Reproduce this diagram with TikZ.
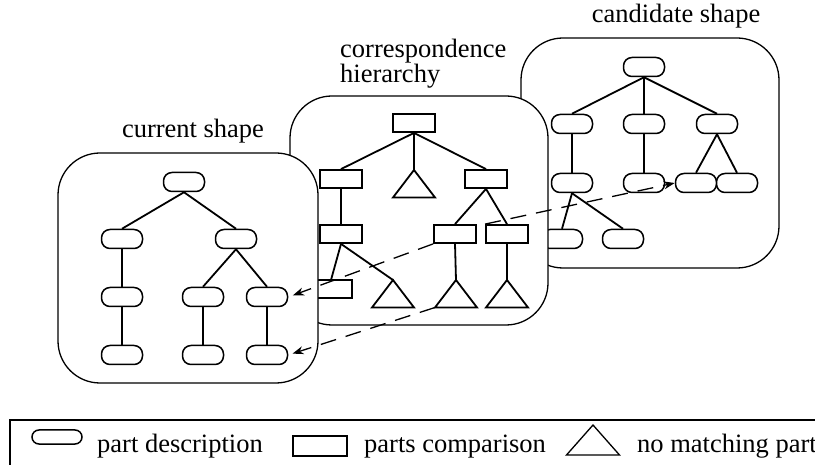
\documentclass[tikz,border=0pt]{standalone}
\usepackage{fontspec}
\setmainfont{Liberation Serif}
\usetikzlibrary{arrows.meta}
\begin{document}
\begin{tikzpicture}[x=1pt,y=-1pt,>={Stealth[length=11pt,width=8pt]},
  font=\fontsize{26.5pt}{22pt}\selectfont,
  panel/.style={draw,line width=1.3pt,fill=white,rounded corners=42pt},
  part/.style={draw,fill=white,line width=1.5pt,rounded corners=8.5pt,minimum width=41pt,minimum height=19pt,inner sep=0pt},
  comp/.style={draw,fill=white,line width=1.8pt,minimum width=42pt,minimum height=18pt,inner sep=0pt},
  tree/.style={line width=1.8pt},
  match/.style={->,line width=1.3pt,dash pattern=on 16pt off 10pt},]
\useasboundingbox (0,0) rectangle (815,465);
% candidate shape
\node (tcand) at (676,23)[anchor=base,inner sep=0pt] {candidate shape};
\draw[panel] (521,38) rectangle (779,268);
\node (ca0) at (644,67)[part] {};
\node (ca1a) at (572,124)[part] {};
\node (ca1b) at (644,124)[part] {};
\node (ca1c) at (717,124)[part] {};
\node (ca2a) at (572,183)[part] {};
\node (ca2b) at (644,183)[part] {};
\node (ca2c) at (696,183)[part] {};
\node (ca2d) at (737,183)[part] {};
\node (ca3a) at (562,239)[part] {};
\node (ca3b) at (623,239)[part] {};
\draw[tree] (ca0.south)--(ca1a.north);
\draw[tree] (ca0.south)--(ca1b.north);
\draw[tree] (ca0.south)--(ca1c.north);
\draw[tree] (ca1a.south)--(ca2a.north);
\draw[tree] (ca1b.south)--(ca2b.north);
\draw[tree] (ca1c.south)--(ca2c.north);
\draw[tree] (ca1c.south)--(ca2d.north);
\draw[tree] (ca2a.south)--(ca3a.north);
\draw[tree] (ca2a.south)--(ca3b.north);
% correspondence hierarchy
\node (tcorr) at (340,39)[anchor=north west,inner sep=0pt,align=left] {correspondence\\hierarchy};
\draw[panel] (290,96) rectangle (548,325);
\node (co0) at (414,123)[comp] {};
\node (co1a) at (341,179)[comp] {};
\node (co1b) at (486,179)[comp] {};
\node (co2a) at (341,234)[comp] {};
\node (co2b) at (455,234)[comp] {};
\node (co2c) at (507,234)[comp] {};
\coordinate (tr1) at (414,170);
\coordinate (tr2) at (393,280);
\coordinate (tr3) at (456,280);
\coordinate (tr4) at (507,280);
\draw[tree] (co0.south)--(co1a.north);
\draw[tree] (co0.south)--(tr1);
\draw[tree] (co0.south)--(co1b.north);
\draw[tree] (co1a.south)--(co2a.north);
\draw[tree] (co1b.south)--(co2b.north);
\draw[tree] (co1b.south)--(co2c.north);
\draw[tree] (co2a.south)--(331,280);
\draw[tree] (co2a.south)--(tr2);
\draw[tree] (co2b.south)--(tr3);
\draw[tree] (co2c.south)--(tr4);
\draw[tree] (tr1)--++(-21,27.5)--++(42,0)--cycle;
\draw[tree] (tr2)--++(-21,27.5)--++(42,0)--cycle;
\draw[tree] (tr3)--++(-21,27.5) coordinate (tr3l)--++(42,0)--cycle;
\draw[tree] (tr4)--++(-21,27.5)--++(42,0)--cycle;
\node (co3a) at (331,289)[comp] {};
% current shape
\node (tcur) at (193,138)[anchor=base,inner sep=0pt] {current shape};
\draw[panel] (58,153) rectangle (318,383);
\node (cu0) at (184,182)[part] {};
\node (cu1a) at (122,239)[part] {};
\node (cu1b) at (236,239)[part] {};
\node (cu2a) at (122,297)[part] {};
\node (cu2b) at (203,297)[part] {};
\node (cu2c) at (267,297)[part] {};
\node (cu3a) at (122,355)[part] {};
\node (cu3b) at (203,355)[part] {};
\node (cu3c) at (267,355)[part] {};
\draw[tree] (cu0.south)--(cu1a.north);
\draw[tree] (cu0.south)--(cu1b.north);
\draw[tree] (cu1a.south)--(cu2a.north);
\draw[tree] (cu1b.south)--(cu2b.north);
\draw[tree] (cu1b.south)--(cu2c.north);
\draw[tree] (cu2a.south)--(cu3a.north);
\draw[tree] (cu2b.south)--(cu3b.north);
\draw[tree] (cu2c.south)--(cu3c.north);
% matches
\draw[match,shorten >=5pt] (co2b.south west)--(cu2c.east);
\draw[match,shorten >=4.5pt] (tr3l)--(cu3c.east);
\draw[match] (co2c.north west)--(ca2c.west);
% legend
\draw[line width=2.5pt] (10,470)--(10,420)--(820,420);
\node (lg1) at (57,437)[part,minimum width=50pt,minimum height=14pt,rounded corners=7pt] {};
\node (lg1t) at (97,453)[anchor=base west,inner sep=0pt] {part description};
\node (lg2) at (320,446)[comp,line width=1.5pt,minimum width=54pt,minimum height=20pt] {};
\node (lg2t) at (364,453)[anchor=base west,inner sep=0pt] {parts comparison};
\coordinate (lg3) at (593,425);
\draw[line width=1.3pt] (lg3)--++(-26.5,30)--++(53,0)--cycle;
\node (lg3t) at (637,453)[anchor=base west,inner sep=0pt] {no matching part};
\end{tikzpicture}
\end{document}
